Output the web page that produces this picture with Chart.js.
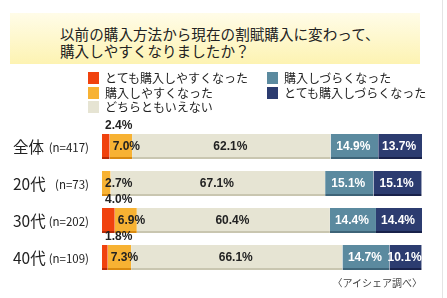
<!DOCTYPE html>
<html><head><meta charset="utf-8">
<script src="https://cdn.jsdelivr.net/npm/chart.js@4/dist/chart.umd.min.js"></script>
<style>
html,body{margin:0;padding:0;background:#fff;width:447px;height:298px;overflow:hidden;}
#wrap{position:relative;width:447px;height:298px;font-family:"Noto Sans CJK JP",sans-serif;}
#c{position:absolute;left:0;top:0;}
.title{position:absolute;left:10px;top:13px;width:410px;height:51px;background:linear-gradient(#fffce8,#fdf3b2);box-sizing:border-box;padding:12px 0 0 50px;font-size:14.6px;line-height:17px;color:#222;}
.lg{position:absolute;font-size:12px;line-height:14px;color:#222;white-space:nowrap;}
.lg i{position:absolute;left:-17px;top:1px;width:11px;height:12px;}
.foot{position:absolute;right:25px;top:275px;font-size:10px;color:#444;}
.rl{position:absolute;left:442px;top:0;width:1px;height:298px;background:#e4e4e4;}
</style></head>
<body><div id="wrap">
<canvas id="c" width="447" height="298"></canvas>
<div class="title">以前の購入方法から現在の割賦購入に変わって、<br>購入しやすくなりましたか？</div>
<div id="legend"></div>
<div class="foot">〈アイシェア調べ〉</div>
<div class="rl"></div>
</div>
<script>
const groups = ["全体", "20代", "30代", "40代"];
const sampleSizes = ["(n=417)", "(n=73)", "(n=202)", "(n=109)"];
const seriesNames = ["とても購入しやすくなった", "購入しやすくなった", "どちらともいえない", "購入しづらくなった", "とても購入しづらくなった"];
const veryEasy = [2.4, 0, 4.0, 1.8];
const easy = [7.0, 2.7, 6.9, 7.3];
const neither = [62.1, 67.1, 60.4, 66.1];
const hard = [14.9, 15.1, 14.4, 14.7];
const veryHard = [13.7, 15.1, 14.4, 10.1];

const colors = ["#f0420e", "#f7b233", "#e6e4d3", "#5b8a9f", "#2c3c70"];
const shade = ["#b82a06", "#d98a10", "#c9c6b0", "#3e6478", "#18214a"];
const labelColors = ["#222", "#222", "#222", "#fff", "#fff"];

// legend (HTML)
const legPos = [[105,71],[105,85.5],[105,100],[284,71],[284,85.5]];
const legEl = document.getElementById('legend');
seriesNames.forEach((n,i)=>{
  const d=document.createElement('div');d.className='lg';
  d.style.left=legPos[i][0]+'px';d.style.top=legPos[i][1]+'px';
  d.innerHTML='<i style="background:'+colors[i]+'"></i>'+n;
  legEl.appendChild(d);
});

const seriesData = [veryEasy, easy, neither, hard, veryHard];
const datasets = seriesData.map((d,i)=>({
  label: seriesNames[i], data: d, backgroundColor: colors[i],
  borderColor: shade[i], borderWidth: {top:0,left:0,right:0,bottom:2}, borderSkipped:false,
  categoryPercentage: 1, barPercentage: 0.68
}));

const labelPlugin = {
  id:'labels',
  afterDatasetsDraw(chart){
    const ctx=chart.ctx; const ys=chart.scales.y;
    ctx.save();
    groups.forEach((g,i)=>{
      const y=ys.getPixelForValue(i);
      ctx.fillStyle='#222'; ctx.textBaseline='middle';
      ctx.font='15.5px "Noto Sans CJK JP"'; ctx.textAlign='left';
      ctx.fillText(g,13,y+1);
      ctx.font='11.5px "Noto Sans CJK JP"'; ctx.textAlign='right';
      ctx.fillText(sampleSizes[i],89,y+1);
    });
    ctx.font='bold 12px "Liberation Sans", Arial, sans-serif';
    ctx.textBaseline='middle';
    chart.data.datasets.forEach((ds,di)=>{
      const meta=chart.getDatasetMeta(di);
      meta.data.forEach((bar,j)=>{
        const v=ds.data[j]; if(!v) return;
        const t=v.toFixed(1)+'%';
        const left=Math.min(bar.x,bar.base), right=Math.max(bar.x,bar.base);
        ctx.fillStyle=labelColors[di];
        if(di===0){ ctx.textAlign='left'; ctx.fillText(t,left+3,bar.y-bar.height/2-8); }
        else if(di===1){ ctx.textAlign='left'; ctx.fillText(t,left+3,bar.y); }
        else { ctx.textAlign='center'; ctx.fillText(t,(left+right)/2-1,bar.y); }
      });
    });
    ctx.restore();
  }
};

new Chart(document.getElementById('c'),{
  type:'bar',
  data:{labels:groups,datasets},
  options:{
    indexAxis:'y', responsive:false, animation:false,
    layout:{padding:{left:102,right:25,top:128,bottom:22}},
    scales:{
      x:{stacked:true,min:0,max:100.1,display:false},
      y:{stacked:true,display:false}
    },
    plugins:{legend:{display:false},tooltip:{enabled:false}}
  },
  plugins:[labelPlugin]
});
</script>
</body></html>
